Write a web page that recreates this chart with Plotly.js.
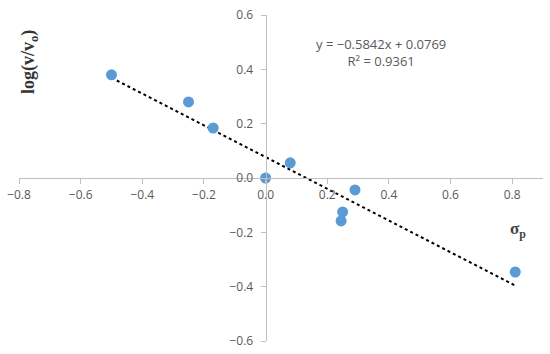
<!DOCTYPE html>
<html><head><meta charset="utf-8">
<script src="https://cdn.plot.ly/plotly-3.0.1.min.js"></script>
<style>html,body{margin:0;padding:0;background:#fff}</style>
</head><body><div id="chart" style="width:550px;height:354px"></div>
<script>
const sigmaP = [-0.50, -0.25, -0.17, 0.00, 0.08, 0.29, 0.25, 0.245, 0.81];
const logRatio = [0.38, 0.28, 0.184, 0.00, 0.056, -0.044, -0.125, -0.158, -0.346];
const trendX = [-0.50, 0.81];
const trendY = [0.369, -0.396];
const xTicks = [-0.8, -0.6, -0.4, -0.2, 0.0, 0.2, 0.4, 0.6, 0.8];
const yTicks = [-0.6, -0.4, -0.2, 0.0, 0.2, 0.4, 0.6];
const xRange = [-0.8, 0.9];
const yRange = [-0.6, 0.6];
const fmt = v => (v < 0 ? '\u2212' : '') + Math.abs(v).toFixed(1);

const traces = [
  {x: trendX, y: trendY, mode: 'lines', line: {color: '#000', width: 2, dash: 'dot'}, hoverinfo: 'skip'},
  {x: sigmaP, y: logRatio, mode: 'markers', marker: {color: '#5B9BD5', size: 11}}
];
const tickFont = {family: 'Open Sans, Liberation Sans, sans-serif', size: 12, color: '#595959'};
const layout = {
  width: 550, height: 354,
  margin: {l: 19, r: 7, t: 15, b: 13},
  paper_bgcolor: '#fff', plot_bgcolor: '#fff',
  showlegend: false,
  xaxis: {
    range: xRange, anchor: 'free', position: (0 - yRange[0]) / (yRange[1] - yRange[0]),
    tickvals: xTicks, ticktext: xTicks.map(fmt), tickfont: tickFont,
    showgrid: false, zeroline: false, showline: true, linecolor: '#bfbfbf', linewidth: 1,
    ticks: 'outside', ticklen: 5, tickcolor: '#bfbfbf', ticklabelstandoff: 1, automargin: false
  },
  yaxis: {
    range: yRange, anchor: 'free', position: (0 - xRange[0]) / (xRange[1] - xRange[0]),
    tickvals: yTicks, ticktext: yTicks.map(fmt), tickfont: tickFont,
    showgrid: false, zeroline: false, showline: true, linecolor: '#bfbfbf', linewidth: 1,
    ticks: 'outside', ticklen: 5, tickcolor: '#bfbfbf', ticklabelstandoff: 5, automargin: false
  },
  annotations: [
    {xref: 'paper', yref: 'paper', x: 0.021, y: 0.856, text: '<b>log(v/v<sub>o</sub>)</b>', textangle: -90,
     showarrow: false, font: {family: 'Liberation Serif, Times New Roman, serif', size: 18, color: '#333'}, xanchor: 'center', yanchor: 'middle'},
    {x: 0.819, y: -0.19, text: '<b>σ<sub>p</sub></b>', showarrow: false,
     font: {family: 'Liberation Serif, Times New Roman, serif', size: 17, color: '#444'}, xanchor: 'center', yanchor: 'middle'},
    {x: 0.374, y: 0.462, text: 'y = \u22120.5842x + 0.0769<br>R\u00b2 = 0.9361', showarrow: false, align: 'center',
     font: {family: 'Open Sans, Liberation Sans, sans-serif', size: 13, color: '#595959'}, xanchor: 'center', yanchor: 'middle'}
  ]
};
Plotly.newPlot('chart', traces, layout, {displayModeBar: false, staticPlot: true});
</script></body></html>
